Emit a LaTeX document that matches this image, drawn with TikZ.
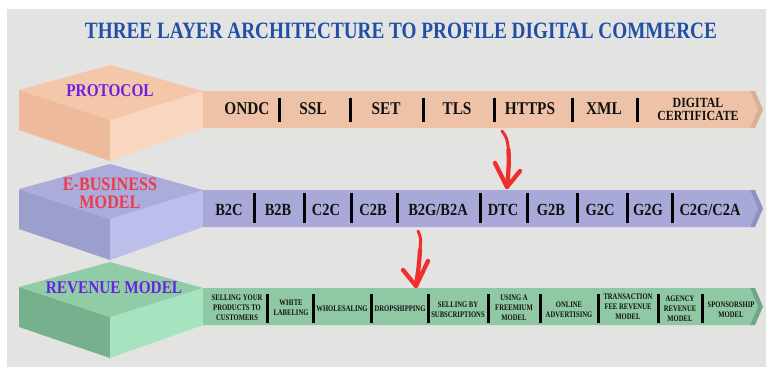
\documentclass[tikz,border=0pt]{standalone}
\usepackage{fontspec}
\usepackage{graphicx}
\setmainfont{Liberation Serif}
\newfontfamily\cond{Liberation Serif}[FakeStretch=0.85]
\newfontfamily\xcond{Liberation Serif}[FakeStretch=0.78]
\definecolor{bg}{HTML}{E3E3E1}
\definecolor{titleblue}{HTML}{1F4FA6}
\definecolor{violetlbl}{HTML}{6A22E0}
\definecolor{redlbl}{HTML}{EE3B4B}
\definecolor{arrowred}{HTML}{F02E2E}
\definecolor{inkc}{HTML}{111111}
% protocol
\definecolor{ptop}{HTML}{F4C6AA}
\definecolor{pleft}{HTML}{EDBA9C}
\definecolor{pright}{HTML}{F9D6BF}
\definecolor{pband}{HTML}{EEC2A6}
\definecolor{pchev}{HTML}{DDAF92}
% e-business
\definecolor{etop}{HTML}{ABACDB}
\definecolor{eleft}{HTML}{9C9ECE}
\definecolor{eright}{HTML}{BDBEEC}
\definecolor{eband}{HTML}{A8A9D8}
\definecolor{echev}{HTML}{8F90C4}
% revenue
\definecolor{rtop}{HTML}{90CDA6}
\definecolor{rleft}{HTML}{76B08D}
\definecolor{rright}{HTML}{A6E3BF}
\definecolor{rband}{HTML}{8FC9A4}
\definecolor{rchev}{HTML}{6FA888}
\newcommand\drawlayer[6]{%
\begin{scope}[yshift=-#1pt]
\fill[#3] (19,90) -- (110,120) -- (110,161) -- (19,130) -- cycle;
\fill[#4] (110,120) -- (203,91) -- (203,128) -- (110,161) -- cycle;
\fill[#2] (110,65) -- (203,91) -- (110,120) -- (19,90) -- cycle;
\fill[#5] (203,91) -- (750,91) -- (758,109.5) -- (750,128) -- (203,128) -- cycle;
\fill[#6] (750,91) -- (755,91) -- (763,109.5) -- (755,128) -- (750,128) -- (758,109.5) -- cycle;
\end{scope}}
\tikzset{
  sepbar/.style={line width=3pt, draw=black},
  plbl/.style={inner sep=0pt, text=inkc, font=\cond\bfseries\fontsize{18}{18}\selectfont, align=center},
  elbl/.style={inner sep=0pt, text=inkc, font=\cond\bfseries\fontsize{17}{17}\selectfont, align=center},
  rlbl/.style={inner sep=0pt, text=inkc, font=\xcond\bfseries\fontsize{8.5}{9.8}\selectfont, align=center},
  boxlbl/.style={inner sep=0pt, font=\cond\bfseries\fontsize{18}{18}\selectfont, align=center},
  redarrow/.style={draw=arrowred, line width=4.3pt, line cap=round, line join=round}
}
\begin{document}
\begin{tikzpicture}[x=1pt,y=-1pt]
\useasboundingbox (0,0) rectangle (766,367);
\fill[white] (0,0) rectangle (766,367);
\fill[bg] (7,9) rectangle (766,367);

% title
\node[inner sep=0pt, text=titleblue] (title) at (401,31)
  {\resizebox{632pt}{15.5pt}{\bfseries THREE LAYER ARCHITECTURE TO PROFILE DIGITAL COMMERCE}};

% layers
\drawlayer{0}{ptop}{pleft}{pright}{pband}{pchev}
\drawlayer{99}{etop}{eleft}{eright}{eband}{echev}
\drawlayer{197}{rtop}{rleft}{rright}{rband}{rchev}

% box labels
\node[boxlbl, text=violetlbl] (protocol) at (110,91) {PROTOCOL};
\node[boxlbl, text=redlbl, font=\cond\bfseries\fontsize{19}{18}\selectfont] (ebiz) at (110,193) {E-BUSINESS\\MODEL};
\node[boxlbl, text=violetlbl] (revenue) at (114,288) {REVENUE MODEL};

% protocol items
\node[plbl] (p1) at (247,109) {ONDC};
\node[plbl] (p2) at (313,109) {SSL};
\node[plbl] (p3) at (386,109) {SET};
\node[plbl] (p4) at (457,109) {TLS};
\node[plbl] (p5) at (530,109) {HTTPS};
\node[plbl] (p6) at (604,109) {XML};
\node[plbl, font=\cond\bfseries\fontsize{14}{13}\selectfont] (p7) at (698,109) {DIGITAL\\CERTIFICATE};
\foreach \x in {279,350,423,494,572,637} \draw[sepbar] (\x,98) -- (\x,122);

% e-business items
\node[elbl] (e1) at (229,210) {B2C};
\node[elbl] (e2) at (278,210) {B2B};
\node[elbl] (e3) at (326,210) {C2C};
\node[elbl] (e4) at (373,210) {C2B};
\node[elbl] (e5) at (438,210) {B2G/B2A};
\node[elbl] (e6) at (503,210) {DTC};
\node[elbl] (e7) at (551,210) {G2B};
\node[elbl] (e8) at (600,210) {G2C};
\node[elbl] (e9) at (648,210) {G2G};
\node[elbl] (e10) at (710,210) {C2G/C2A};
\foreach \x in {254,304,351,397,480,527,577,627,672} \draw[sepbar] (\x,193) -- (\x,223);

% revenue items
\node[rlbl] (r1) at (237,308) {SELLING YOUR\\PRODUCTS TO\\CUSTOMERS};
\node[rlbl] (r2) at (291,308) {WHITE\\LABELING};
\node[rlbl] (r3) at (342,309) {WHOLESALING};
\node[rlbl] (r4) at (400,309) {DROPSHIPPING};
\node[rlbl] (r5) at (458,310) {SELLING BY\\SUBSCRIPTIONS};
\node[rlbl] (r6) at (514,308) {USING A\\FREEMIUM\\MODEL};
\node[rlbl] (r7) at (569,310) {ONLINE\\ADVERTISING};
\node[rlbl] (r8) at (628,307) {TRANSACTION\\FEE REVENUE\\MODEL};
\node[rlbl] (r9) at (680,309) {AGENCY\\REVENUE\\MODEL};
\node[rlbl] (r10) at (731,310) {SPONSORSHIP\\MODEL};
\foreach \x in {267,313,371,428,488,540,598,658,702} \draw[sepbar] (\x,294) -- (\x,323);

% red arrows
\coordinate (a1s) at (502,131);
\coordinate (a1t) at (507,187);
\coordinate (a1l) at (495,163);
\coordinate (a1r) at (520,171);
\draw[redarrow, line width=3pt] (a1s) .. controls (507,138) .. (508.5,150);
\draw[redarrow] (508.5,150) .. controls (509,165) .. (a1t);
\draw[redarrow] (a1l) -- (a1t) -- (a1r);

\coordinate (a2s) at (418,231);
\coordinate (a2t) at (416,286);
\coordinate (a2l) at (403,270);
\coordinate (a2r) at (428,261);
\draw[redarrow, line width=3pt] (a2s) .. controls (421,238) .. (420,250);
\draw[redarrow] (420,250) .. controls (419,265) .. (a2t);
\draw[redarrow] (a2l) -- (a2t) -- (a2r);
\end{tikzpicture}
\end{document}
